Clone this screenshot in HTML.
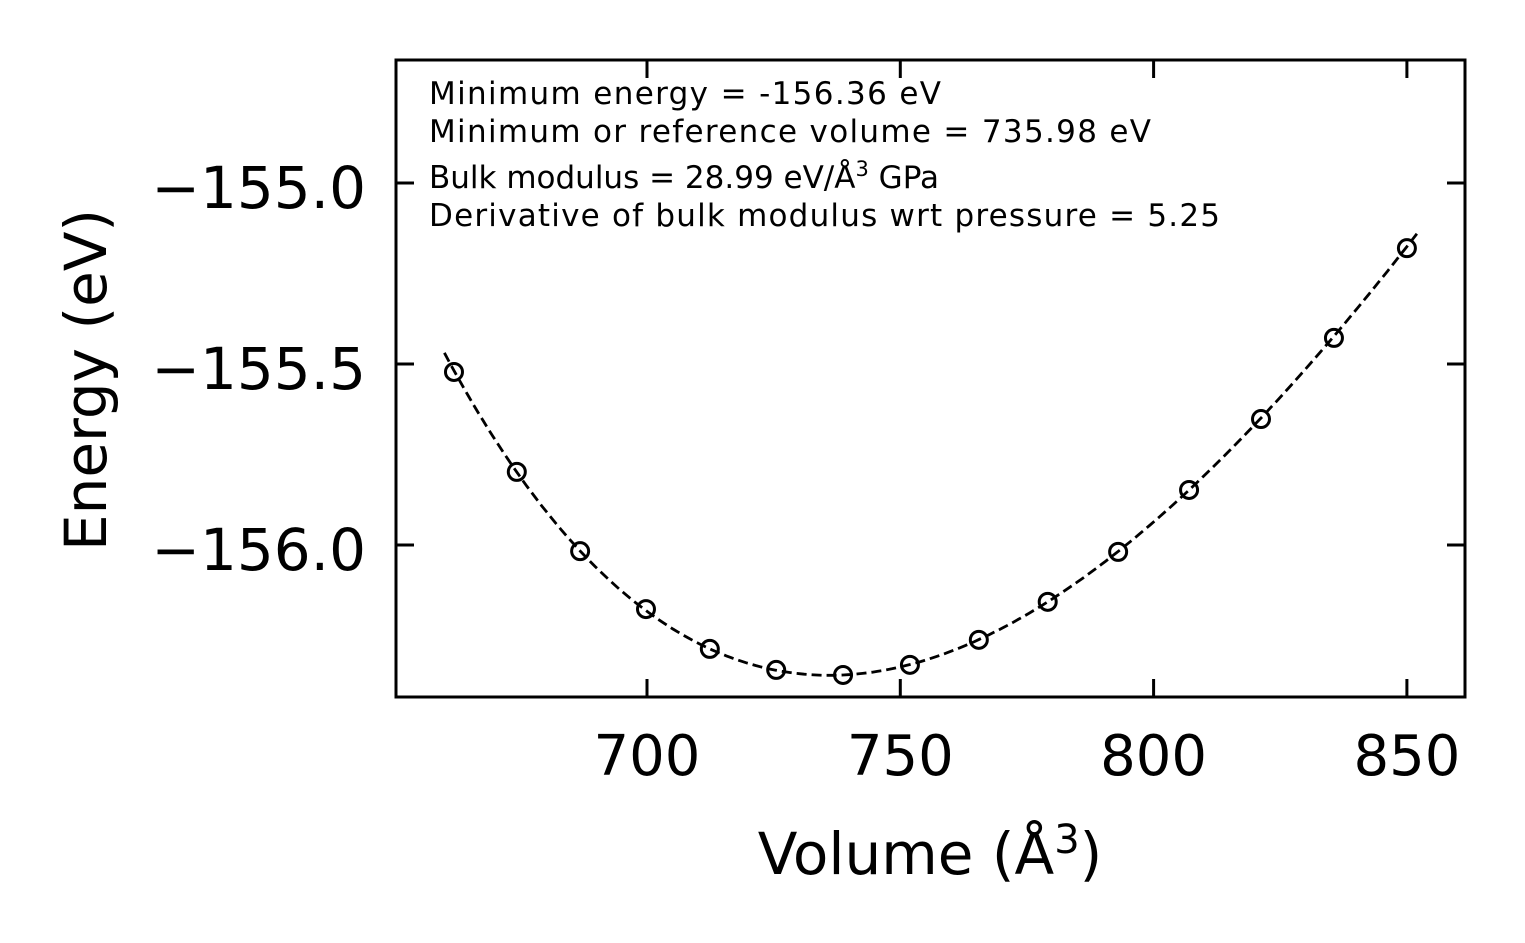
<!DOCTYPE html>
<html><head><meta charset="utf-8"><style>
body{margin:0;background:#fff}
svg{display:block;font-family:"DejaVu Sans","Liberation Sans",sans-serif}
</style></head><body>
<svg id="chart" width="1525" height="943" viewBox="0 0 1525 943">
<rect width="1525" height="943" fill="#fff"/>
<g id="marks"></g>
<rect x="396" y="60" width="1069" height="637" fill="none" stroke="#000" stroke-width="3"/>
<g id="axes"></g>
<g font-size="31" fill="#000">
<text x="429" y="104" textLength="512">Minimum energy = -156.36 eV</text>
<text x="429" y="142" textLength="722">Minimum or reference volume = 735.98 eV</text>
<text x="429" y="188">Bulk modulus = 28.99 eV/Å<tspan dy="-12" font-size="21">3</tspan><tspan dy="12"> GPa</tspan></text>
<text x="429" y="226" textLength="791">Derivative of bulk modulus wrt pressure = 5.25</text>
</g>
<text x="930" y="874" font-size="58" text-anchor="middle">Volume (Å<tspan dy="-21" font-size="40">3</tspan><tspan dy="21">)</tspan></text>
<text transform="translate(106,380) rotate(-90)" font-size="58" text-anchor="middle">Energy (eV)</text>
</svg>
<script>
const volumes=[661.9,674.3,686.8,699.8,712.4,725.5,738.7,751.9,765.5,779.1,793.0,807.0,821.2,835.6,850.0];
const energies=[-155.522,-155.798,-156.017,-156.177,-156.287,-156.345,-156.359,-156.331,-156.262,-156.157,-156.019,-155.848,-155.652,-155.428,-155.180];
const fitParams=[-156.36,735.98,0.181,5.25];
const fitRange=[660,852];
const xTicks=[700,750,800,850];
const yTicks=[-155.0,-155.5,-156.0];
const yTickLabels=["\u2212155.0","\u2212155.5","\u2212156.0"];
const NS="http://www.w3.org/2000/svg";
function X(v){return 647+(v-700)*253.3/50;}
function Y(e){return 183+(-155-e)*362;}
function mk(t,a,p){const el=document.createElementNS(NS,t);for(const k in a)el.setAttribute(k,a[k]);p.appendChild(el);return el;}
const marks=document.getElementById('marks'),axes=document.getElementById('axes');
function bm(V){const [E0,V0,B,Bp]=fitParams;const r=Math.pow(V0/V,2/3);const x=r-1;return E0+9*V0*B/16*(x*x*x*Bp+x*x*(6-4*r));}
let d='';for(let i=0;i<=200;i++){const v=fitRange[0]+(fitRange[1]-fitRange[0])*i/200;d+=(i?'L':'M')+X(v).toFixed(1)+','+Y(bm(v)).toFixed(1);}
const fit=mk('path',{d:d,fill:'none',stroke:'#000','stroke-width':2.8,'stroke-dasharray':'10,5'},marks);


volumes.forEach((v,i)=>{const c=mk('circle',{cx:X(v),cy:Y(energies[i]),r:8.5,fill:'none',stroke:'#000','stroke-width':3},marks);

});
xTicks.forEach(t=>{const x=X(t);
mk('line',{x1:x,y1:697,x2:x,y2:679,stroke:'#000','stroke-width':3},axes);
mk('line',{x1:x,y1:60,x2:x,y2:78,stroke:'#000','stroke-width':3},axes);
const tx=mk('text',{x:x,y:775,'font-size':56,'text-anchor':'middle'},axes);tx.textContent=t;

});
yTicks.forEach((t,i)=>{const y=Y(t);
mk('line',{x1:396,y1:y,x2:414,y2:y,stroke:'#000','stroke-width':3},axes);
mk('line',{x1:1465,y1:y,x2:1447,y2:y,stroke:'#000','stroke-width':3},axes);
const tx=mk('text',{x:366,y:y+25,'font-size':58,'text-anchor':'end'},axes);tx.textContent=yTickLabels[i];

});
</script>
</body></html>
